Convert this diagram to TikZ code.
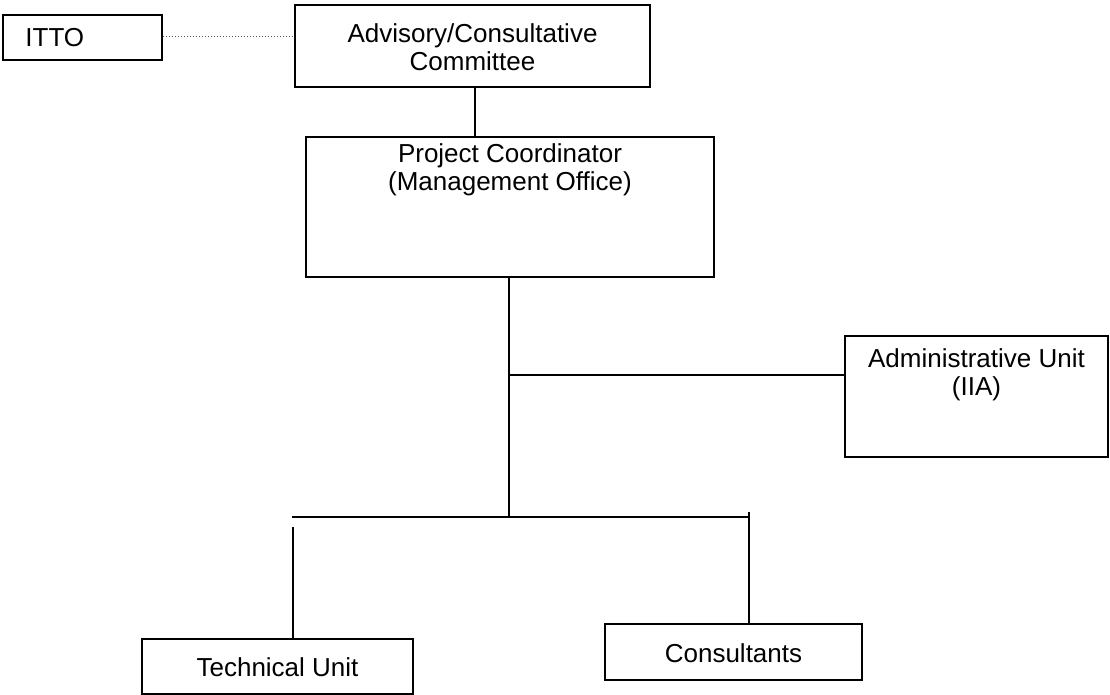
\documentclass[tikz,border=0pt]{standalone}
\usepackage{fontspec}
\setmainfont{Liberation Sans}
\begin{document}
\begin{tikzpicture}[x=0.5pt,y=-0.5pt,
  box/.style={draw,line width=1pt,minimum width=#1,inner sep=0pt},
  txt/.style={font=\fontsize{13}{14}\selectfont,align=center,inner sep=0pt},
  conn/.style={line width=1pt},
  dots/.style={line width=0.5pt,densely dotted,gray!70!black}]
\useasboundingbox (0,0) rectangle (1110,695);
% boxes
\node[box=79.5pt,minimum height=22.5pt] (itto) at (82.5,37.5) {};
\node[box=177.5pt,minimum height=41pt] (adv) at (472.5,46) {};
\node[box=204pt,minimum height=70pt] (proj) at (510,207) {};
\node[box=131.5pt,minimum height=60.5pt] (adm) at (976.5,396.5) {};
\node[box=135.5pt,minimum height=27.5pt] (tech) at (277.5,666.5) {};
\node[box=128.5pt,minimum height=28pt] (cons) at (733.5,652) {};
% texts
\node[txt,anchor=west] (ittot) at (25,38) {ITTO};
\node[txt] (advt) at (472.5,47.5) {Advisory/Consultative\\Committee};
\node[txt] (projt) at (510,170) {Project Coordinator\\(Management Office)};
\node[txt] (admt) at (976.5,375) {Administrative Unit\\(IIA)};
\node[txt] (techt) at (277.5,667) {Technical Unit};
\node[txt] (const) at (733.5,653) {Consultants};
% junction coordinates
\coordinate (advdrop) at (475,87);
\coordinate (pdrop) at (509,277);
\coordinate (jadm) at (509,375);
\coordinate (jbot) at (509,517);
\coordinate (bl) at (292,517);
\coordinate (br) at (749,517);
\coordinate (ltop) at (293,527);
\coordinate (rtop) at (749,512);
% connectors
\draw[dots] (itto.east |- 0,37) -- (adv.west |- 0,37);
\draw[conn] (advdrop) -- (advdrop |- proj.north);
\draw[conn] (pdrop) -- (jbot);
\draw[conn] (jadm) -- (jadm -| adm.west);
\draw[conn] (bl) -- (br);
\draw[conn] (ltop) -- (ltop |- tech.north);
\draw[conn] (rtop) -- (rtop |- cons.north);
\end{tikzpicture}
\end{document}
